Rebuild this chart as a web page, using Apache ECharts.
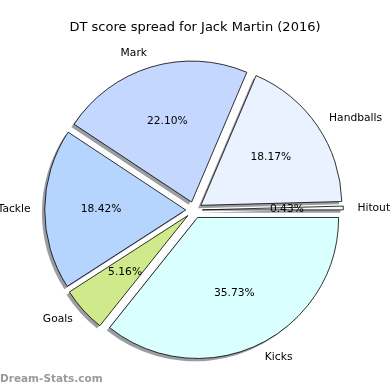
<!DOCTYPE html>
<html><head><meta charset="utf-8">
<script src="https://cdn.jsdelivr.net/npm/echarts@6/dist/echarts.min.js"></script>
<style>html,body{margin:0;padding:0;background:#fff}#c{width:390px;height:390px}</style>
</head><body><div id="c"></div>
<script>
const titleText = 'DT score spread for Jack Martin (2016)';
const categories = ['Hitout', 'Handballs', 'Mark', 'Tackle', 'Goals', 'Kicks'];
const values = [0.43, 18.17, 22.10, 18.42, 5.16, 35.73];
const colors = ['#f8f8f8', '#eaf1ff', '#c4d8ff', '#b5d5ff', '#cfe98b', '#d9ffff'];
const watermark = 'Dream-Stats.com';

const CX = 194, CY = 210, R = 141, OFF = 8.3, SH = 2.8;
const font = 'DejaVu Sans';

const mainData = categories.map((n, i) => ({
  name: n, value: values[i], selected: true,
  itemStyle: { color: colors[i] }
}));
const plainData = categories.map((n, i) => ({ name: n, value: values[i], selected: true }));

const base = {
  type: 'pie', startAngle: 0, clockwise: false,
  selectedMode: 'multiple', selectedOffset: OFF,
  avoidLabelOverlap: false, minAngle: 0,
  emphasis: { disabled: true }, silent: true
};

const chart = echarts.init(document.getElementById('c'), null, { renderer: 'canvas' });
chart.setOption({
  animation: false,
  backgroundColor: '#fff',
  title: {
    text: titleText, left: 'center', top: 16,
    textStyle: { fontFamily: font, fontSize: 13, fontWeight: 'normal', color: '#000' }
  },
  graphic: [{
    type: 'text', left: 0, top: 374,
    style: { text: watermark, font: 'bold 10.5px "DejaVu Sans"', fill: '#9a9a9a' }
  }],
  series: [Object.assign({}, base, {
    center: [CX - SH, CY + SH], radius: [0, R],
    data: plainData,
    itemStyle: { color: 'rgba(55,60,70,0.5)', borderWidth: 0 },
    label: { show: false }, labelLine: { show: false }
  }), Object.assign({}, base, {
    center: [CX, CY], radius: [0, R],
    data: mainData,
    itemStyle: { borderColor: '#000', borderWidth: 0.8 },
    label: {
      show: true, position: 'outside', formatter: '{b}',
      fontFamily: font, fontSize: 10.7, color: '#000', distanceToLabelLine: 0
    },
    labelLine: { show: false, length: 14.1, length2: 0 }
  }), Object.assign({}, base, {
    center: [CX, CY], radius: [22.2, R],
    data: plainData,
    itemStyle: { color: 'rgba(0,0,0,0)', borderWidth: 0 },
    label: {
      show: true, position: 'inside',
      formatter: p => p.value.toFixed(2) + '%',
      fontFamily: font, fontSize: 10.7, color: '#000'
    },
    labelLine: { show: false }
  })]
});
</script></body></html>
